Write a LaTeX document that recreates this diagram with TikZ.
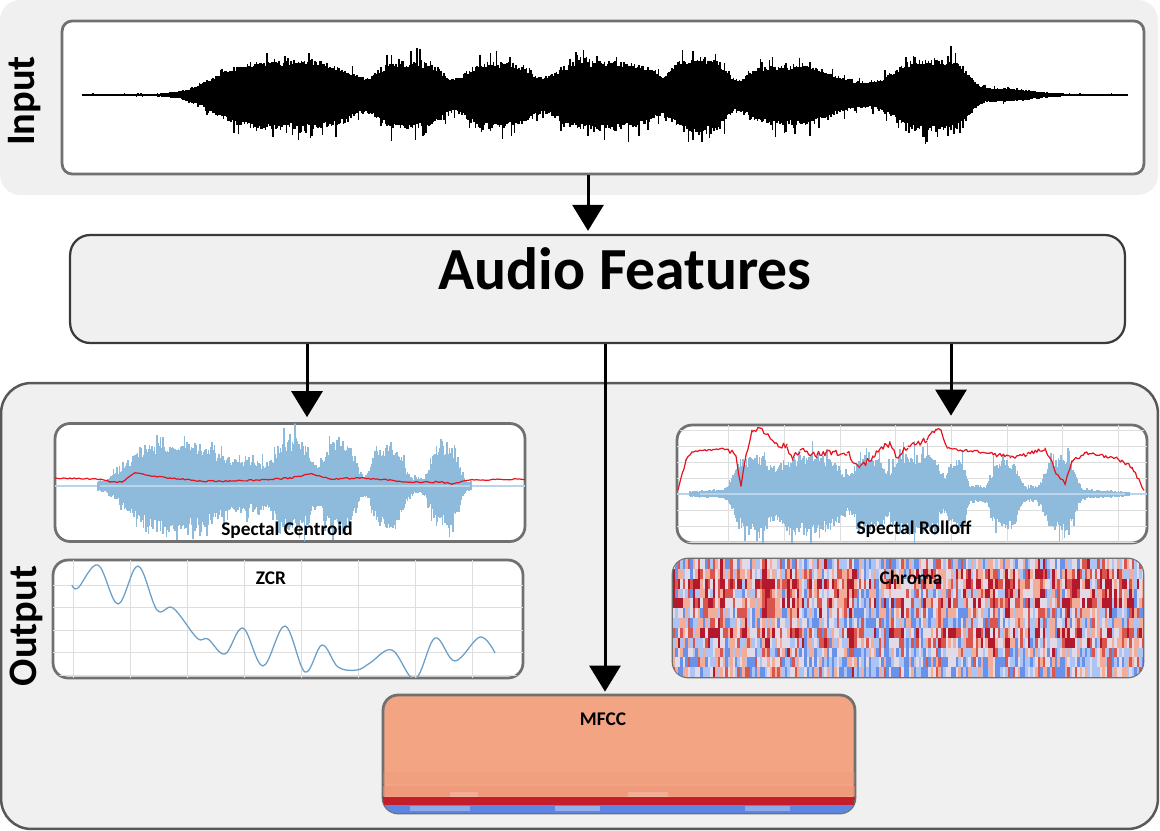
\documentclass[tikz,border=0pt]{standalone}
\usepackage{fontspec}
\setmainfont{Carlito}
\usepackage{tikz}
\usepackage{xcolor}
\usetikzlibrary{arrows.meta,calc}
\definecolor{panelgray}{RGB}{240,240,240}
\definecolor{boxedge}{RGB}{112,112,112}
\definecolor{darkedge}{RGB}{58,58,58}
\definecolor{outedge}{RGB}{88,88,88}
\definecolor{waveblue}{RGB}{142,186,219}
\definecolor{wavelite}{RGB}{186,212,234}
\definecolor{zcrblue}{RGB}{104,158,200}
\definecolor{gridgray}{RGB}{222,222,222}
\definecolor{featred}{RGB}{232,18,30}
\definecolor{mfccsalmon}{RGB}{243,164,131}
\definecolor{mfccdeep}{RGB}{236,148,118}
\definecolor{mfccred}{RGB}{196,30,42}
\definecolor{mfccblue}{RGB}{92,134,226}
\definecolor{chroma1}{RGB}{104,146,234}
\definecolor{chroma2}{RGB}{172,196,244}
\definecolor{chroma3}{RGB}{226,218,230}
\definecolor{chroma4}{RGB}{242,172,152}
\definecolor{chroma5}{RGB}{218,86,76}
\definecolor{chroma6}{RGB}{180,24,44}

\begin{document}
\begin{tikzpicture}[x=0.02cm,y=-0.02cm,>=Stealth,
  panel/.style={fill=panelgray,inner sep=0pt},
  plotbox/.style={draw=boxedge,line width=0.055cm,fill=white,rounded corners=0.3cm,inner sep=0pt,
    minimum width=9.4cm,minimum height=2.36cm},
  lbl/.style={font=\fontsize{11}{13}\selectfont\bfseries,inner sep=0pt},
  side/.style={font=\fontsize{23}{27}\selectfont\bfseries,rotate=90,inner sep=0pt},
  flow/.style={line width=0.06cm,-{Triangle[length=0.52cm,width=0.62cm]}},
  wavein/.style={line width=0.036cm,black},
  waveb/.style={line width=0.03cm,waveblue},
  redcurve/.style={featred,line width=0.024cm,line join=round,line cap=round},
  gridline/.style={gridgray,line width=0.02cm},
  declare function={gb(\X,\C,\W)=exp(-min(9,((\X-\C)/\W)*((\X-\C)/\W)));
    gp(\X,\C,\W)=exp(-min(3,((\X-\C)/\W)*((\X-\C)/\W))*min(3,((\X-\C)/\W)*((\X-\C)/\W)));
    envin(\Z)=1.2+2*gb(\Z,190,25)+35*gp(\Z,287,80)+34*gp(\Z,412,38)+33*gp(\Z,497,40)
      +35*gp(\Z,605,62)+38*gp(\Z,700,30)+30*gp(\Z,788,52)+12*gp(\Z,864,28)
      +36*gp(\Z,930,42)+6*gb(\Z,1000,40);
    envsc(\Z)=1+10*gp(\Z,285,190)+40*gp(\Z,176,55)+16*gp(\Z,250,18)+42*gp(\Z,292,22)
      +42*gp(\Z,339,18)+38*gp(\Z,388,17)+38*gp(\Z,445,16);
    envro(\Z)=1+8*gp(\Z,905,200)+36*gp(\Z,751,19)+36*gp(\Z,808,38)+34*gp(\Z,870,17)
      +38*gp(\Z,916,26)+30*gp(\Z,957,10)+30*gp(\Z,1005,15)+36*gp(\Z,1060,17);}]
  \useasboundingbox (0,0) rectangle (1160,831);
  \pgfmathsetseed{4242}
  % panels
  \node[panel,rounded corners=0.4cm,minimum width=23.16cm,minimum height=3.9cm] (inbg) at (579,97.5) {};
  \node[panel,draw=outedge,line width=0.05cm,rounded corners=0.6cm,minimum width=23.14cm,minimum height=8.92cm] (outbg) at (579.5,606) {};
  % boxes
  \node[draw=boxedge,line width=0.055cm,fill=white,rounded corners=0.2cm,inner sep=0pt,
    minimum width=21.64cm,minimum height=3.06cm] (in) at (603,97.5) {};
  \node[draw=darkedge,line width=0.045cm,fill=panelgray,rounded corners=0.4cm,inner sep=0pt,
    minimum width=21.1cm,minimum height=2.16cm] (af) at (597.5,289) {};
  \node[plotbox] (sc) at (290,482.5) {};
  \node[plotbox] (zcr) at (288,619) {};
  \node[plotbox] (ro) at (912,484) {};
  \node[plotbox] (chr) at (908,618) {};
  \node[plotbox,fill=mfccsalmon,minimum width=9.44cm] (mfcc) at (619,754) {};

  % input waveform
  \draw[line width=0.03cm] (82,95) -- (1128,95);
  \foreach \x in {84,85.5,...,1126} {
    \pgfmathsetmacro\e{envin(\x)}
    \draw[wavein] (\x,{95-\e*(0.78+0.18*rnd+0.45*rnd^8)}) -- (\x,{95+\e*(0.78+0.18*rnd+0.45*rnd^8)});
  }

  % spectral centroid
  \begin{scope}
    \clip[rounded corners=0.27cm] ($(sc.south west)+(1.5,-1.5)$) rectangle ($(sc.north east)+(-1.5,1.5)$);
    \draw[wavelite,line width=0.03cm] (55,486) -- (525,486);
    \foreach \x in {98,99.2,...,472} {
      \pgfmathsetmacro\e{envsc(\x)}
      \draw[waveb] (\x,{486-\e*(0.62+0.25*rnd+0.4*rnd^6)}) -- (\x,{486+\e*(0.62+0.25*rnd+0.4*rnd^6)});
    }
    \draw[wavelite,line width=0.05cm] (100,486) -- (470,486);
    \gdef\xo{55}\gdef\yo{478}
    \foreach \xa/\ya/\j in {100/479/1.2,110/482/1.2,122/482/1.5,135/473/1.5,150/476/1.5,170/478/1.5,
        200/481/1.5,230/481/1.5,260/480/1.5,290/478/1.5,312/474/1.5,330/479/1.5,360/478/1.5,
        390/480/1.5,410/482/1.5,440/482/1.5,452/484/1.5,470/480/1.2,525/479/1.2} {
      \pgfmathtruncatemacro\n{max(2,(\xa-\xo)/2)}
      \draw[redcurve] plot[domain=0:1,samples=\n] ({\xo+(\xa-\xo)*\x},{\yo+(\ya-\yo)*\x+\j*(rnd-0.5)*(\x>0)*(\x<1)});
      \xdef\xo{\xa}\xdef\yo{\ya}
    }
  \end{scope}

  % zcr
  \begin{scope}
    \clip[rounded corners=0.27cm] ($(zcr.south west)+(1.5,-1.5)$) rectangle ($(zcr.north east)+(-1.5,1.5)$);
    \foreach \gx in {73,130,187,244,301,358,415,472} \draw[gridline] (\gx,560) -- (\gx,678);
    \foreach \gy in {585,607.5,630,652.5,675} \draw[gridline] (53,\gy) -- (523,\gy);
    \draw[zcrblue,line width=0.025cm] plot[smooth,tension=0.6] coordinates {(72,585) (78,588) (98,565)
      (118,604) (138,566) (157,610) (173,608) (197,638) (208,639) (225,654) (243,628) (263,666)
      (285,626) (305,672) (322,645) (338,667) (357,670) (370,663) (392,650) (415,679) (435,638)
      (455,661) (480,637) (495,653)};
  \end{scope}

  % spectral rolloff
  \begin{scope}
    \clip[rounded corners=0.27cm] ($(ro.south west)+(1.5,-1.5)$) rectangle ($(ro.north east)+(-1.5,1.5)$);
    \foreach \gx in {728,784,840,895,951,1007,1062,1118} \draw[gridline] (\gx,425) -- (\gx,543);
    \foreach \gy in {430,446,462,478,510,526,542} \draw[gridline] (677,\gy) -- (1147,\gy);
    \draw[wavelite,line width=0.03cm] (677,494) -- (1147,494);
    \foreach \x in {690,691.2,...,1130} {
      \pgfmathsetmacro\e{envro(\x)}
      \draw[waveb] (\x,{494-\e*(0.62+0.25*rnd+0.4*rnd^6)}) -- (\x,{494+\e*(0.62+0.25*rnd+0.4*rnd^6)});
    }
    \draw[wavelite,line width=0.05cm] (700,494) -- (1125,494);
    \gdef\xo{678}\gdef\yo{490}
    \foreach \xa/\ya/\j in {686/460/3,692/452/3,705/450/2,728/449/2,736/456/5,741/486/6,746/455/5,
        752/432/5,760/428/7,768/434/6,775/443/6,787/447/6,793/458/7,800/450/7,817/455/7,847/453/8,
        860/466/8,873/457/8,890/443/8,898/458/8,908/446/8,927/440/7,936/430/6,941/430/5,947/448/3,
        960/450/2,990/453/3,1010/458/5,1027/454/5,1045/448/5,1050/458/6,1058/475/7,1065/485/6,
        1072/462/6,1085/453/4,1117/458/3,1132/467/4,1144/490/3} {
      \pgfmathtruncatemacro\n{max(2,(\xa-\xo)/1.5)}
      \draw[redcurve] plot[domain=0:1,samples=\n] ({\xo+(\xa-\xo)*\x},{\yo+(\ya-\yo)*\x+\j*(rnd-0.5)*(\x>0)*(\x<1)});
      \xdef\xo{\xa}\xdef\yo{\ya}
    }
  \end{scope}

  % chroma
  \begin{scope}
    \clip[rounded corners=0.27cm] ($(chr.south west)+(1.5,-1.5)$) rectangle ($(chr.north east)+(-1.5,1.5)$);
    \foreach \c in {0,...,189} {
      \pgfmathsetmacro\cb{2.4*(rnd-0.5)-0.6*(\c>72)*(\c<118)}
      \foreach \r/\rb in {0/-0.6,1/0.6,2/1.2,3/0.3,4/0.8,5/-0.3,6/-0.5,7/0.9,8/0.2,9/-0.8,10/-1.0,11/-0.8} {
        \pgfmathtruncatemacro\ci{min(6,max(1,1+floor(4.5*rnd+0.75+(\rb)+(\cb))))}
        \fill[fill=chroma\ci] ({673+\c*2.48},{559+\r*9.84}) rectangle ++(2.7,10.1);
      }
    }
  \end{scope}

  % mfcc
  \begin{scope}
    \clip[rounded corners=0.27cm] ($(mfcc.south west)+(1.5,-1.5)$) rectangle ($(mfcc.north east)+(-1.5,1.5)$);
    \fill[mfccdeep,opacity=0.3] (383,772) rectangle (855,784);
    \fill[mfccdeep,opacity=0.6] (383,786) rectangle (855,796);
    \fill[white,opacity=0.2] (450,792) rectangle (478,797);
    \fill[white,opacity=0.2] (628,792) rectangle (668,797);
    \fill[mfccred] (383,797) rectangle (855,805);
    \fill[mfccblue] (383,805) rectangle (855,813);
    \fill[white,opacity=0.3] (410,806) rectangle (470,811);
    \fill[white,opacity=0.35] (555,806) rectangle (600,811);
    \fill[white,opacity=0.3] (745,806) rectangle (790,811);
  \end{scope}

  % labels
  \node[side] (inlbl) at (25,101) {Input};
  \node[side] (outlbl) at (26,626) {Output};
  \node[font=\fontsize{34}{40}\selectfont\bfseries,inner sep=0pt,anchor=base] (aflbl) at (625,290) {Audio Features};
  \node[lbl] (sclbl) at (287,530) {Spectal Centroid};
  \node[lbl] (zcrlbl) at (271,578) {ZCR};
  \node[lbl] (rolbl) at (914,529) {Spectal Rolloff};
  \node[lbl] (chrlbl) at (911,578) {Chroma};
  \node[lbl] (mfcclbl) at (603,719) {MFCC};

  % arrows
  \coordinate (a1) at (588,0);
  \coordinate (a2) at (307,0);
  \coordinate (a3) at (605,0);
  \coordinate (a4) at (951,0);
  \draw[flow,shorten >=0.06cm] (in.south -| a1) -- (af.north -| a1);
  \draw[flow,shorten >=0.1cm] (af.south -| a2) -- (sc.north -| a2);
  \draw[flow,shorten >=0.04cm] (af.south -| a3) -- (mfcc.north -| a3);
  \draw[flow,shorten >=0.16cm] (af.south -| a4) -- (ro.north -| a4);
\end{tikzpicture}
\end{document}
